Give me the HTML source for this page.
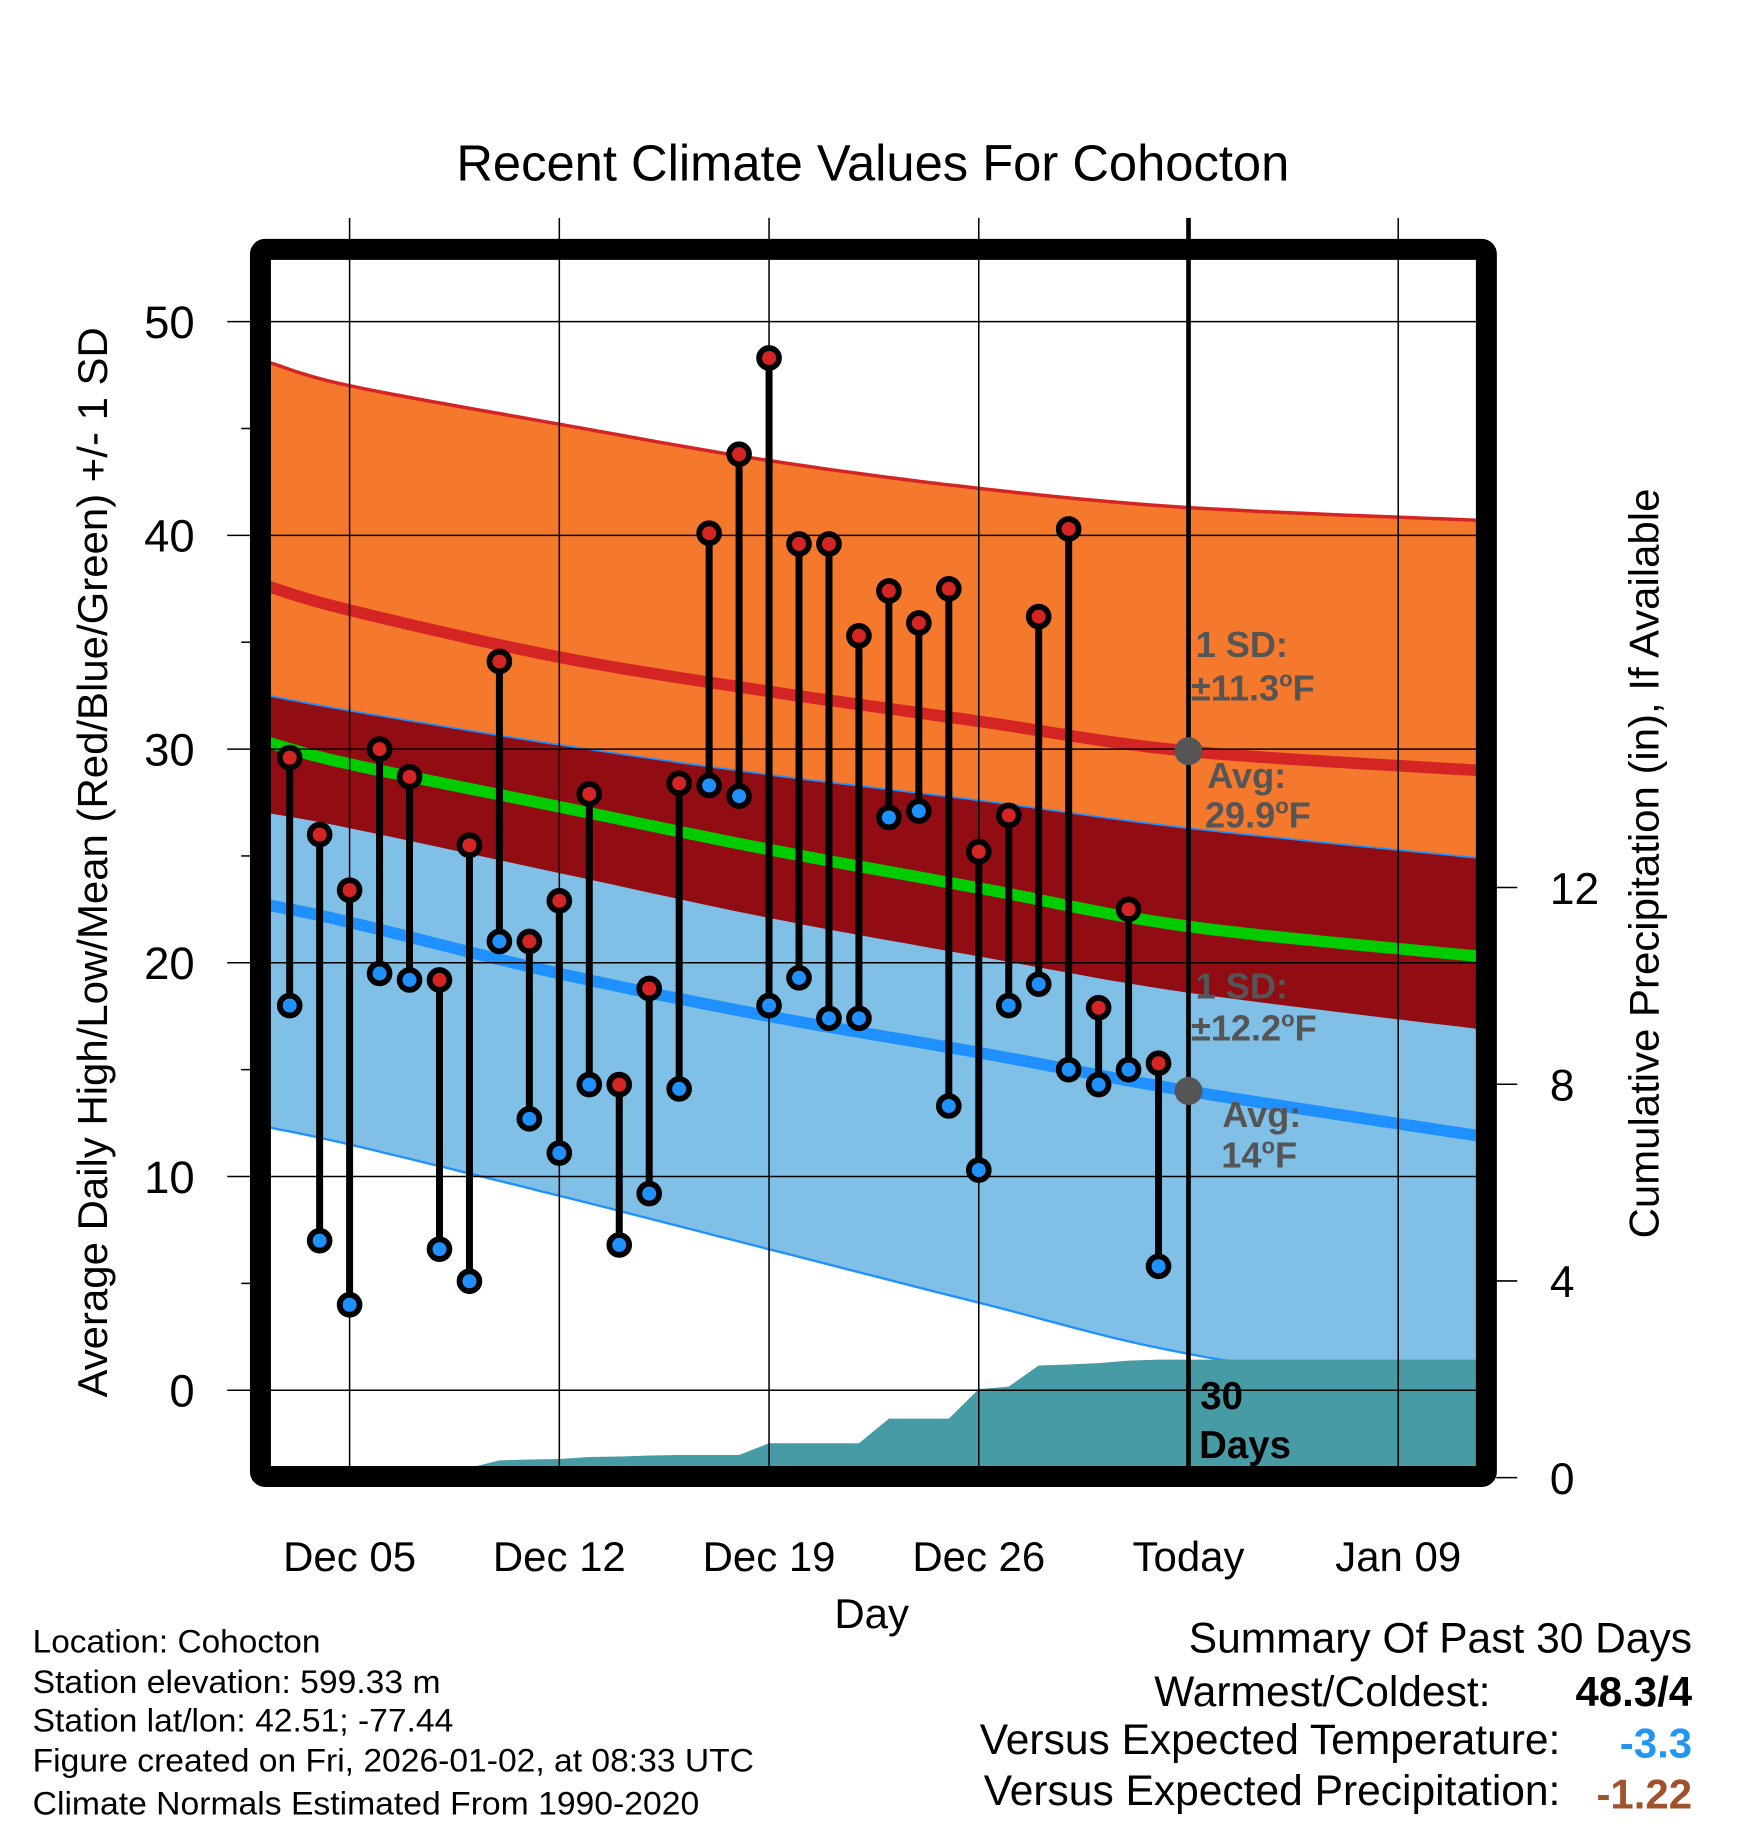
<!DOCTYPE html>
<html><head><meta charset="utf-8"><style>
html,body{margin:0;padding:0;background:#fff;}
svg{display:block;font-family:"Liberation Sans",Arial,sans-serif;}
</style></head><body>
<svg id="chart" width="1748" height="1828" viewBox="0 0 1500 1568.65" xmlns="http://www.w3.org/2000/svg">
<g id="plot"></g>
</svg>
<script>
// ---- data ----
const days = ["Dec 03","Dec 04","Dec 05","Dec 06","Dec 07","Dec 08","Dec 09","Dec 10","Dec 11","Dec 12","Dec 13","Dec 14","Dec 15","Dec 16","Dec 17","Dec 18","Dec 19","Dec 20","Dec 21","Dec 22","Dec 23","Dec 24","Dec 25","Dec 26","Dec 27","Dec 28","Dec 29","Dec 30","Dec 31","Jan 01"];
const dayIdx = [-2,-1,0,1,2,3,4,5,6,7,8,9,10,11,12,13,14,15,16,17,18,19,20,21,22,23,24,25,26,27];
const highs = [29.6,26,23.4,30,28.7,19.2,25.5,34.1,21,22.9,27.9,14.3,18.8,28.4,40.1,43.8,48.3,39.6,39.6,35.3,37.4,35.9,37.5,25.2,26.9,36.2,40.3,17.9,22.5,15.3];
const lows = [18,7,4,19.5,19.2,6.6,5.1,21,12.7,11.1,14.3,6.8,9.2,14.1,28.3,27.8,18,19.3,17.4,17.4,26.8,27.1,13.3,10.3,18,19,15,14.3,15,5.8];
const precip = [0.2,0.2,0.2,0.2,0.2,0.2,0.2,0.35,0.37,0.38,0.42,0.43,0.45,0.46,0.46,0.46,0.7,0.7,0.7,0.7,1.2,1.2,1.2,1.8,1.85,2.28,2.3,2.33,2.38,2.4];
const normDays = [-2.7,0,7,14,21,28,37.7];
const highUpper = [48.1,47,45.2,43.5,42.2,41.3,40.7];
const highAvg = [37.6,36.5,34.3,32.7,31.3,29.9,29.0];
const highLower = [27,26.3,24.2,22.1,20.3,18.6,16.9];
const meanAvg = [30.3,29.3,27.3,25.3,23.5,21.7,20.3];
const lowUpper = [32.5,31.8,30.2,28.8,27.6,26.3,24.9];
const lowAvg = [22.7,21.9,19.5,17.5,15.8,14.0,11.9];
const lowLower = [12.3,11.5,9.1,6.6,4.1,1.7,-0.3];
const yTicks = [0,10,20,30,40,50];
const pTicks = [0,4,8,12];
const xTickDays = [0,7,14,21,28,35];
const xTickLabels = ["Dec 05","Dec 12","Dec 19","Dec 26","Today","Jan 09"];

const X0=231.5, X1=1268, Y0=223, Y1=1259;
const x = d => 300 + d*25.71;
const y = v => 1193 - v*18.34;
const py = p => 1268 - p*42.2;

const NS="http://www.w3.org/2000/svg";
const svg=document.getElementById('chart');
const g=document.getElementById('plot');
function mk(tag,attrs,parent){const e=document.createElementNS(NS,tag);for(const k in attrs)e.setAttribute(k,attrs[k]);(parent||g).appendChild(e);return e;}
function line(arr){
  const n=normDays.length,out=[];
  for(let i=0;i<n-1;i++){
    const p0=i>0?i-1:i,p3=i+2<n?i+2:i+1;
    for(let s=0;s<12;s++){
      const t=s/12,t2=t*t,t3=t2*t;
      const f=(a,b,c,d)=>0.5*((2*b)+(-a+c)*t+(2*a-5*b+4*c-d)*t2+(-a+3*b-3*c+d)*t3);
      const dd=f(normDays[p0],normDays[i],normDays[i+1],normDays[p3]);
      const vv=f(arr[p0],arr[i],arr[i+1],arr[p3]);
      out.push(x(dd).toFixed(1)+','+y(vv).toFixed(1));
    }
  }
  out.push(x(normDays[n-1]).toFixed(1)+','+y(arr[n-1]).toFixed(1));
  return out;
}

const defs=mk('defs',{});
const cp=mk('clipPath',{id:'clip'},defs);
mk('rect',{x:X0,y:Y0,width:X1-X0,height:Y1-Y0},cp);
const pg=mk('g',{'clip-path':'url(#clip)'});

let e;
e=mk('polygon',{points:line(highUpper).concat(line(highLower).reverse()).join(' '),fill:'#f5792c'},pg);


e=mk('polygon',{points:line(lowUpper).concat(line(lowLower).reverse()).join(' '),fill:'#80c0e6'},pg);


e=mk('polygon',{points:line(lowUpper).concat(line(highLower).reverse()).join(' '),fill:'#920c14'},pg);


mk('polyline',{points:line(highUpper).join(' '),fill:'none',stroke:'#d42424','stroke-width':3},pg);
mk('polyline',{points:line(lowUpper).join(' '),fill:'none',stroke:'#1e90ff','stroke-width':1.5},pg);
mk('polyline',{points:line(lowLower).join(' '),fill:'none',stroke:'#1e90ff','stroke-width':2},pg);
e=mk('polyline',{points:line(highAvg).join(' '),fill:'none',stroke:'#d42424','stroke-width':10},pg);


e=mk('polyline',{points:line(meanAvg).join(' '),fill:'none',stroke:'#00cc00','stroke-width':10},pg);


e=mk('polyline',{points:line(lowAvg).join(' '),fill:'none',stroke:'#1e90ff','stroke-width':10},pg);



let pts=[];
pts.push(X0+','+(Y1+5));
pts.push(X0+','+py(precip[0]));
dayIdx.forEach((d,i)=>pts.push(x(d).toFixed(1)+','+py(precip[i]).toFixed(1)));
pts.push(X1+','+py(precip[precip.length-1]).toFixed(1));
pts.push(X1+','+(Y1+5));
e=mk('polygon',{points:pts.join(' '),fill:'#479ba4'},pg);



yTicks.forEach(v=>{mk('line',{x1:195,x2:X1,y1:y(v),y2:y(v),stroke:'#000','stroke-width':1.3});});
[5,15,25,35,45].forEach(v=>{mk('line',{x1:207,x2:215,y1:y(v),y2:y(v),stroke:'#000','stroke-width':1.3});});
xTickDays.forEach((d,i)=>{
  if(i===4) return;
  mk('line',{x1:x(d),x2:x(d),y1:187,y2:Y1,stroke:'#000','stroke-width':1.3});
});
pTicks.forEach(p=>{mk('line',{x1:1284,x2:1302,y1:py(p),y2:py(p),stroke:'#000','stroke-width':1.3});});

e=mk('line',{x1:x(28),x2:x(28),y1:187,y2:Y1,stroke:'#000','stroke-width':4});



dayIdx.forEach((d,i)=>{
  const cx=x(d);
  mk('line',{x1:cx,x2:cx,y1:y(highs[i]),y2:y(lows[i]),stroke:'#000','stroke-width':6});
});
dayIdx.forEach((d,i)=>{
  const cx=x(d);
  let c=mk('circle',{cx:cx,cy:y(highs[i]),r:8.5,fill:'#d42424',stroke:'#000','stroke-width':5});
  
  
  c=mk('circle',{cx:cx,cy:y(lows[i]),r:8.5,fill:'#1e90ff',stroke:'#000','stroke-width':5});
  
  
});

mk('circle',{cx:x(28),cy:y(highAvg[5]),r:12,fill:'#555'});
mk('circle',{cx:x(28),cy:y(lowAvg[5]),r:12,fill:'#555'});

function txt(s,a,parent){const t=mk('text',a,parent);t.textContent=s;return t;}
function deg(pre,post,a){
  const t=mk('text',a);
  t.appendChild(document.createTextNode(pre));
  const ts=mk('tspan',{'font-size':'19',dy:'-12'},t);ts.textContent='o';
  const ts2=mk('tspan',{dy:'12'},t);ts2.textContent=post;
  return t;
}
const ann={fill:'#555','font-weight':'bold','font-size':'31'};
txt('1 SD:',Object.assign({x:1026,y:564},ann));
deg('±11.3','F',Object.assign({x:1022,y:601},ann));
txt('Avg:',Object.assign({x:1036,y:676},ann));
deg('29.9','F',Object.assign({x:1034,y:710},ann));
txt('1 SD:',Object.assign({x:1026,y:857},ann));
deg('±12.2','F',Object.assign({x:1022,y:893},ann));
txt('Avg:',Object.assign({x:1049,y:967},ann));
deg('14','F',Object.assign({x:1048,y:1002},ann));
txt('30',{x:1030,y:1209,fill:'#000','font-weight':'bold','font-size':'33'});
txt('Days',{x:1029,y:1251,fill:'#000','font-weight':'bold','font-size':'33'});

e=mk('rect',{x:223.5,y:214,width:1052,height:1053,fill:'none',stroke:'#000','stroke-width':18,rx:4});



yTicks.forEach(v=>{const t=txt(String(v),{x:167,y:y(v)+14,'font-size':'39','text-anchor':'end'});});
pTicks.forEach(p=>{const t=txt(String(p),{x:1330,y:py(p)+14,'font-size':'38','text-anchor':'start'});});
xTickDays.forEach((d,i)=>{const t=txt(xTickLabels[i],{x:x(d),y:1348,'font-size':'36','text-anchor':'middle'});});
</script>
<script>
(function(){
const NS="http://www.w3.org/2000/svg";const svg=document.getElementById('chart');
function t(s,a){const e=document.createElementNS(NS,'text');for(const k in a)e.setAttribute(k,a[k]);e.textContent=s;svg.appendChild(e);return e;}
let e;
e=t('Recent Climate Values For Cohocton',{x:749,y:155,'font-size':'43.5','text-anchor':'middle'});


e=t('Day',{x:748,y:1397,'font-size':'36','text-anchor':'middle'});


e=t('Average Daily High/Low/Mean (Red/Blue/Green) +/- 1 SD',{x:0,y:0,'font-size':'36','text-anchor':'middle',transform:'translate(92,740) rotate(-90)'});


e=t('Cumulative Precipitation (in), If Available',{x:0,y:0,'font-size':'36','text-anchor':'middle',transform:'translate(1423,741) rotate(-90)'});


const foot=[['Location: Cohocton',1418,247],['Station elevation: 599.33 m',1453,350],['Station lat/lon: 42.51; -77.44',1486,361],['Figure created on Fri, 2026-01-02, at 08:33 UTC',1520,619],['Climate Normals Estimated From 1990-2020',1557,572]];
foot.forEach(f=>{e=t(f[0],{x:28,y:f[1],'font-size':'28',textLength:f[2],lengthAdjust:'spacingAndGlyphs'});

});
e=t('Summary Of Past 30 Days',{x:1452,y:1418,'font-size':'36.5','text-anchor':'end'});


t('Warmest/Coldest:',{x:1279,y:1464,'font-size':'36.5','text-anchor':'end'});
t('48.3/4',{x:1452,y:1464,'font-size':'36','text-anchor':'end','font-weight':'bold'});
t('Versus Expected Temperature:',{x:1339,y:1505,'font-size':'36.5','text-anchor':'end'});
t('-3.3',{x:1452,y:1508,'font-size':'36','text-anchor':'end','font-weight':'bold',fill:'#2196f3'});
t('Versus Expected Precipitation:',{x:1339,y:1549,'font-size':'36.5','text-anchor':'end'});
t('-1.22',{x:1452,y:1552,'font-size':'36','text-anchor':'end','font-weight':'bold',fill:'#a0522d'});
})();
</script>
</body></html>
